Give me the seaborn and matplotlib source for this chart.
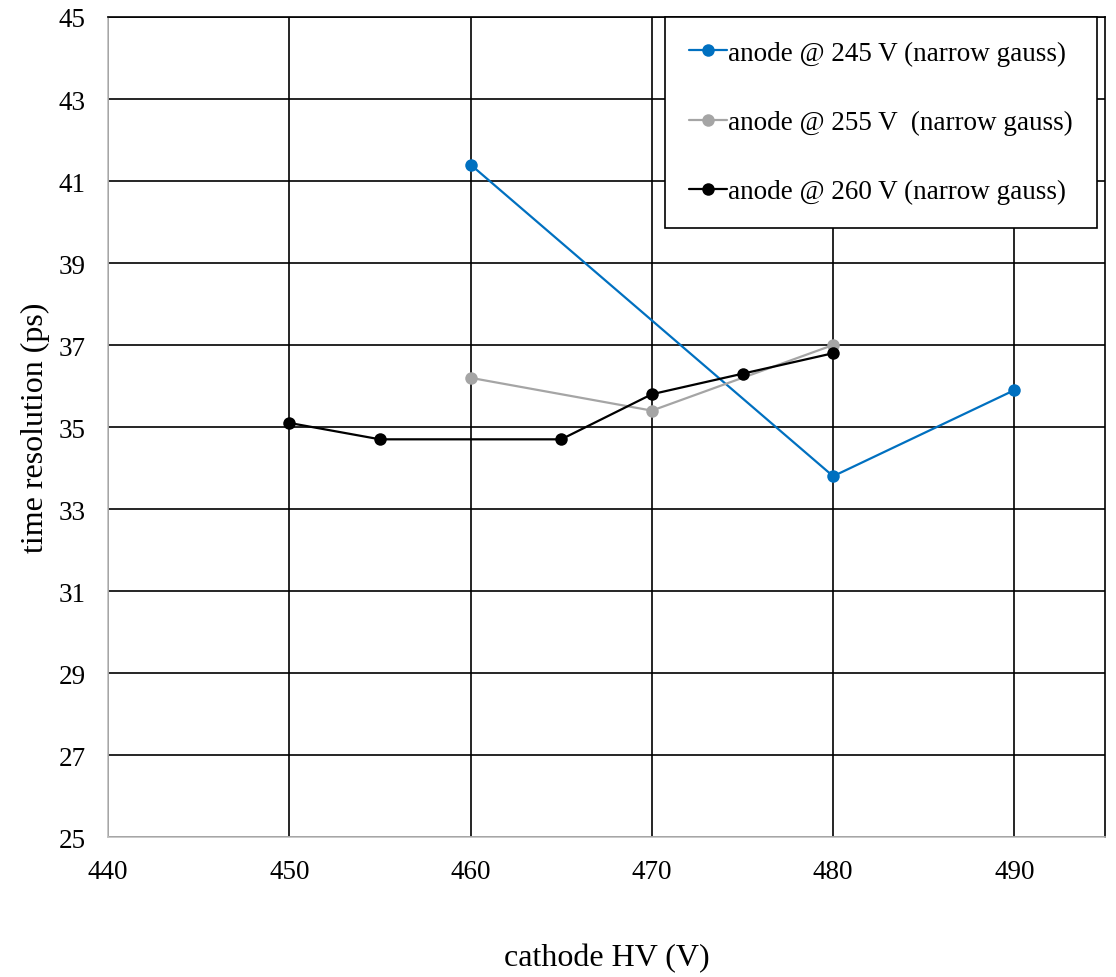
import pandas as pd
import matplotlib
matplotlib.use("Agg")
import matplotlib.pyplot as plt
import seaborn as sns

# series
hv_245 = [460, 480, 490]
res_245 = [41.4, 33.8, 35.9]

hv_255 = [460, 470, 480]
res_255 = [36.2, 35.4, 37.0]

hv_260 = [450, 455, 465, 470, 475, 480]
res_260 = [35.1, 34.7, 34.7, 35.8, 36.3, 36.8]

labels = ["anode @ 245 V (narrow gauss)",
          "anode @ 255 V  (narrow gauss)",
          "anode @ 260 V (narrow gauss)"]
colors = ["#0070C0", "#A5A5A5", "#000000"]

x_ticks = [440, 450, 460, 470, 480, 490]
y_ticks = [25, 27, 29, 31, 33, 35, 37, 39, 41, 43, 45]

df = pd.concat([
    pd.DataFrame({"hv": hv_245, "res": res_245, "series": labels[0]}),
    pd.DataFrame({"hv": hv_255, "res": res_255, "series": labels[1]}),
    pd.DataFrame({"hv": hv_260, "res": res_260, "series": labels[2]}),
])

sns.set_style("white")
plt.rcParams["font.family"] = ["Liberation Serif", "DejaVu Serif"]
plt.rcParams["text.color"] = "black"
plt.rcParams["axes.labelcolor"] = "black"
plt.rcParams["xtick.color"] = "black"
plt.rcParams["ytick.color"] = "black"

fig = plt.figure(figsize=(11.16, 9.78), dpi=100)
ax = fig.add_axes([0.0968, 0.1431, 0.8934, 0.8385])

sns.lineplot(data=df, x="hv", y="res", hue="series", hue_order=labels,
             palette=colors, marker="o", markersize=9, markeredgewidth=0,
             linewidth=1.6, sort=False, ax=ax)

ax.set_xlim(440, 495)
ax.set_ylim(25, 45)
ax.set_xticks(x_ticks)
ax.set_yticks(y_ticks)
ax.grid(True, color="black", linewidth=1.2)
ax.set_axisbelow(True)
ax.tick_params(length=0, labelsize=19.5, pad=16)

for side in ["left", "bottom"]:
    ax.spines[side].set_color("#BFBFBF")
    ax.spines[side].set_linewidth(1.2)
for side in ["top", "right"]:
    ax.spines[side].set_color("black")
    ax.spines[side].set_linewidth(1.2)

ax.set_xlabel("cathode HV (V)", fontsize=23, labelpad=42)
ax.set_ylabel("time resolution (ps)", fontsize=23, labelpad=6)

leg = ax.legend(loc="upper right", bbox_to_anchor=(0.9916, 1.0), fontsize=19.5,
                frameon=True, fancybox=False, edgecolor="black",
                facecolor="white", framealpha=1,
                handlelength=1.4, handletextpad=0.05, labelspacing=1.62,
                borderpad=0.88, borderaxespad=0)
leg.get_frame().set_linewidth(1.2)
leg.set_title(None)

fig.savefig("out.png", dpi=100)
